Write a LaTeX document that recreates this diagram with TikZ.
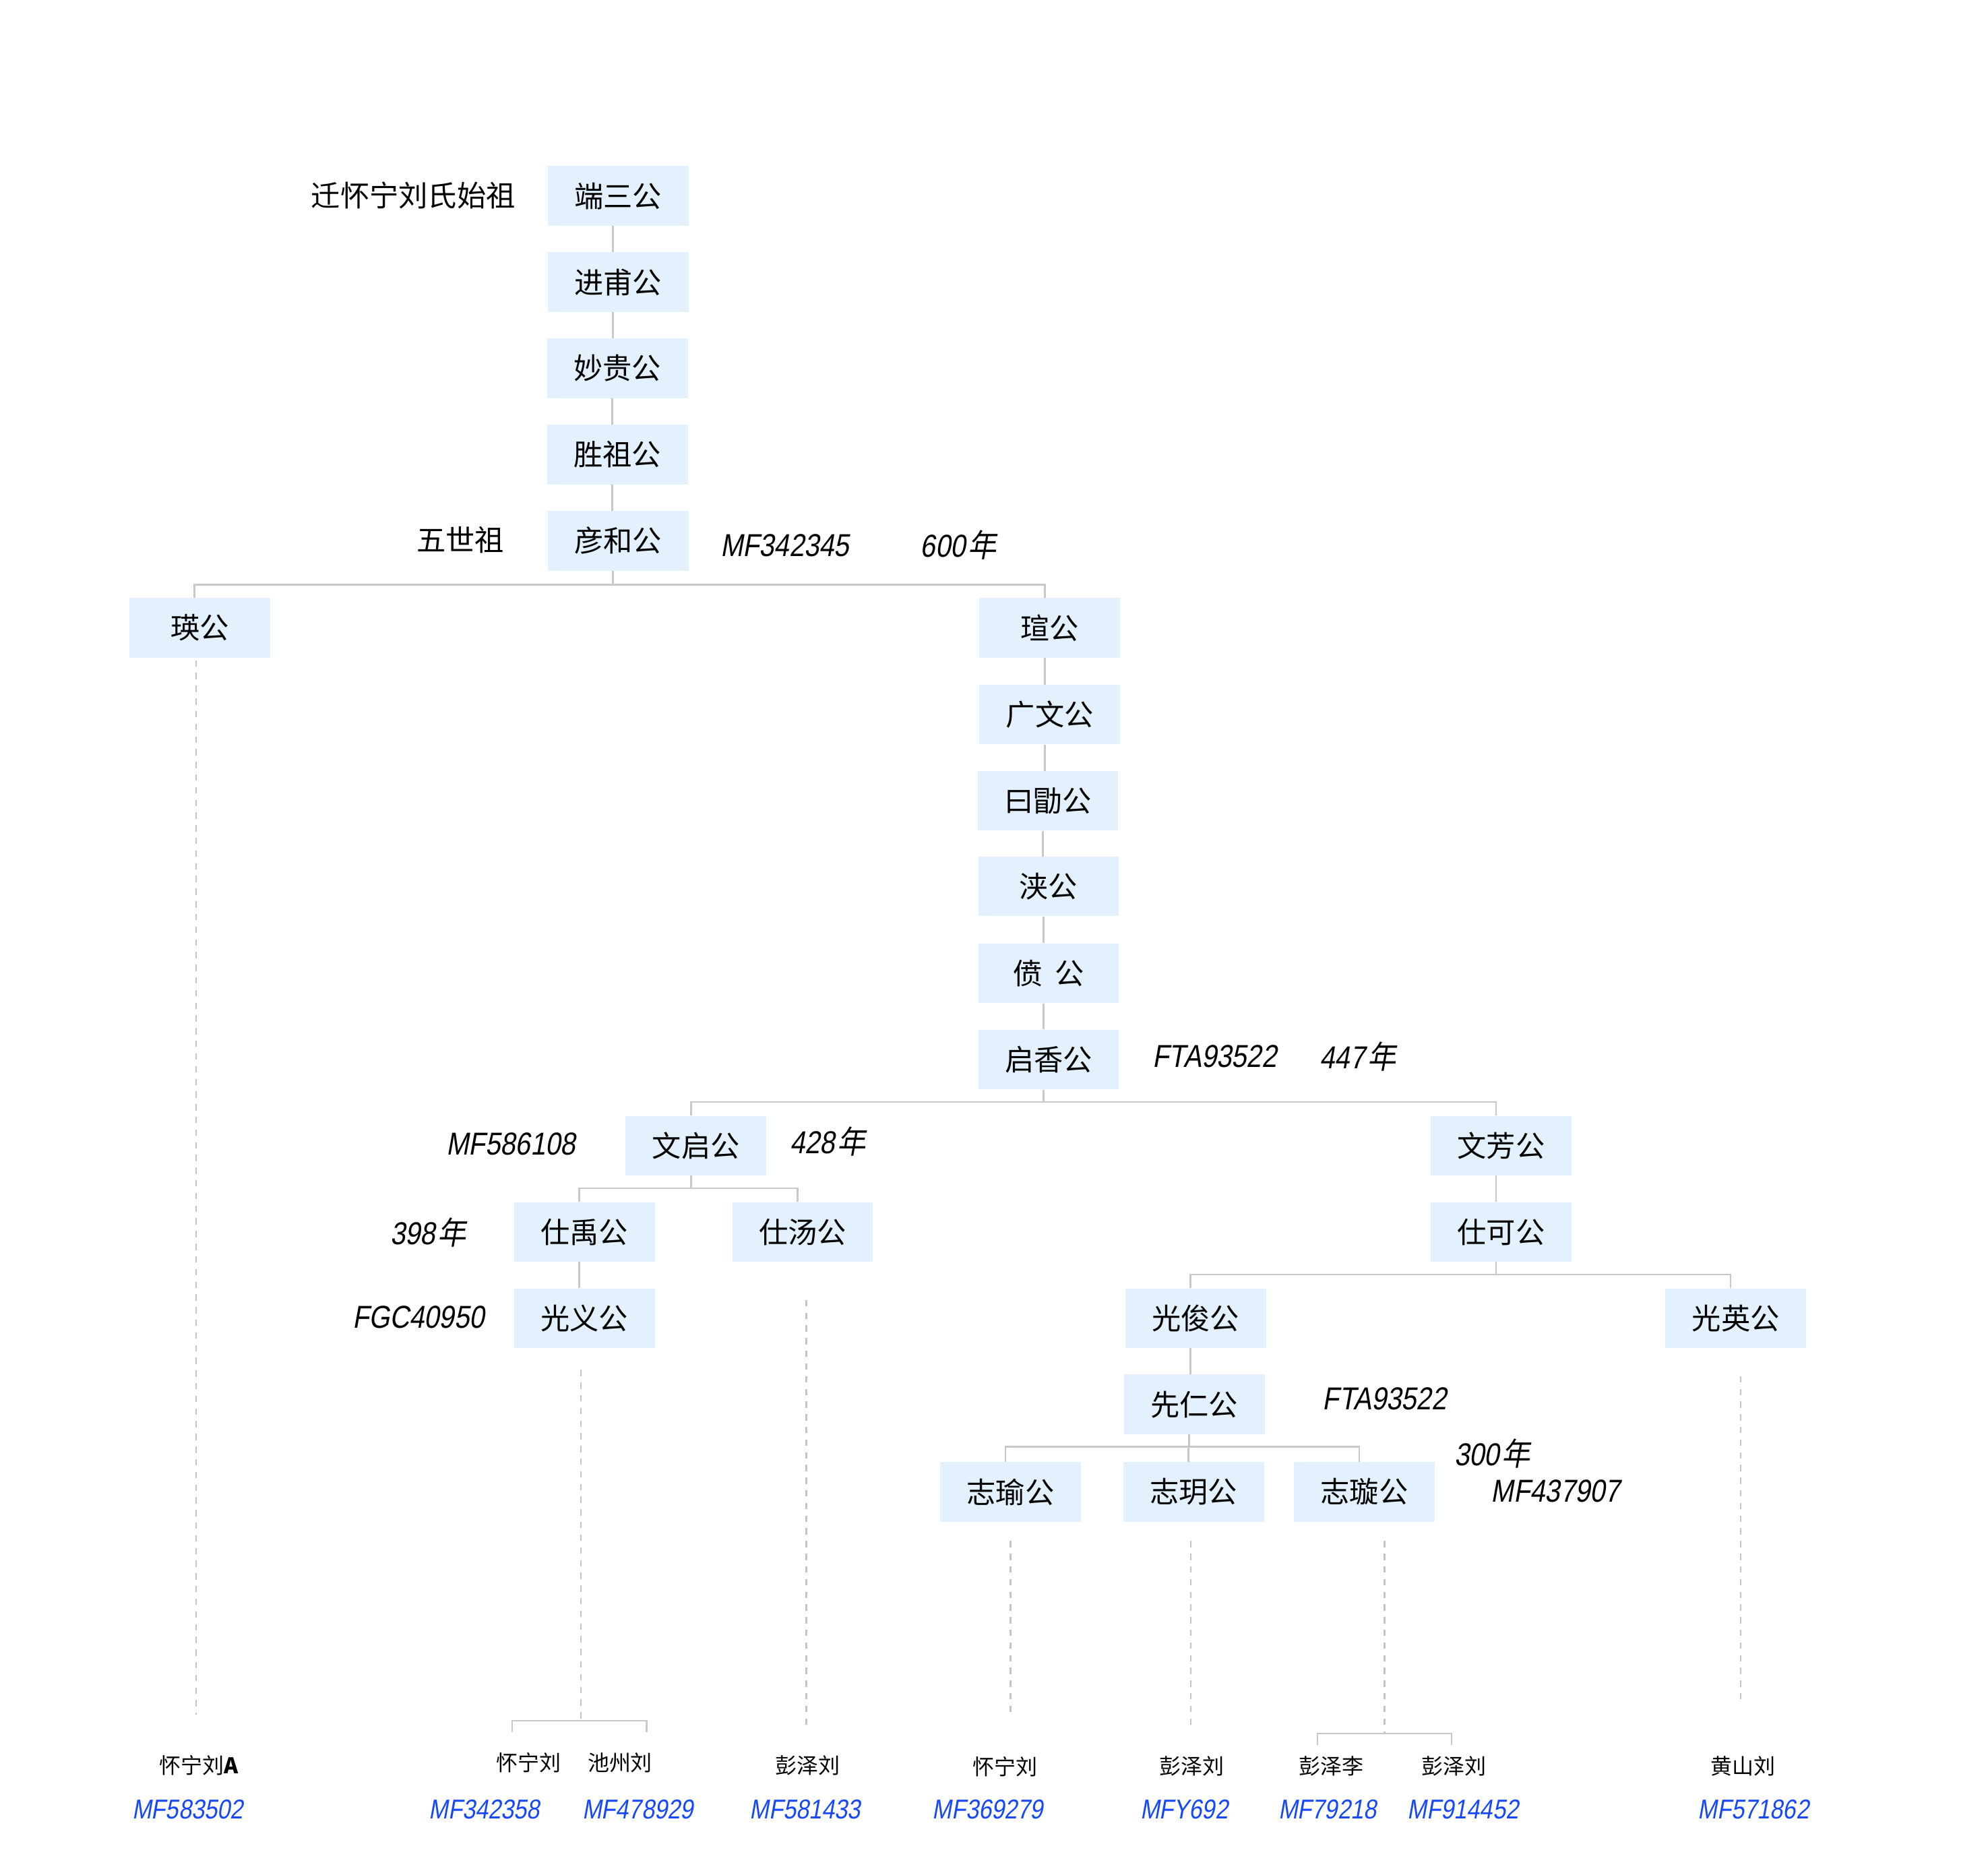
\documentclass[tikz,border=0pt]{standalone}
\usepackage{fontspec}
\usetikzlibrary{calc}
\setmainfont{Noto Sans CJK SC}
\newfontfamily\cjkit[FakeSlant=0.18,FakeStretch=0.9]{Noto Sans CJK SC}
\newfontfamily\codefont[FakeSlant=0.18,FakeStretch=0.85]{Liberation Sans}
\newcommand\nian{\hspace{2pt}{\cjkit 年}}
\newcommand\vlink[2]{\draw[conn] ($(#1.south)+(-4,0)$) -- ($(#1.south |- #2.north)+(-4,0)$);}
\newcommand\stem[2]{\draw[conn] ($(#1.south)+(-4,0)$) -- ($(#1.south |- #2)+(-4,0)$);}
\newcommand\branch[3]{\draw[conn] ($(#1.north)+(-4,0)$) |- ($(#3.north |- #2)+(-4,0)$) -- ($(#3.north)+(-4,0)$);}
\newcommand\drop[2]{\draw[conn] ($(#1.north)+(-4,0)$) -- ($(#1.north |- #2)+(-4,0)$);}
\definecolor{boxfill}{HTML}{E3F0FD}
\definecolor{linegray}{HTML}{C8C8CC}
\definecolor{dotgray}{HTML}{C4C4C8}
\definecolor{codeblue}{RGB}{22,72,250}
\tikzset{
  box/.style={fill=boxfill, minimum width=111pt, minimum height=47pt, inner sep=0pt, font=\fontsize{23}{23}\selectfont},
  note/.style={font=\fontsize{23}{23}\selectfont, inner sep=0pt},
  code/.style={font=\codefont\fontsize{25}{25}\selectfont, inner sep=0pt},
  small/.style={font=\fontsize{17}{17}\selectfont, inner sep=0pt},
  bcode/.style={font=\codefont\fontsize{21.5}{21.5}\selectfont, text=codeblue, inner sep=0pt},
  conn/.style={draw=linegray, line width=1.4pt},
  thinconn/.style={draw=linegray, line width=1.1pt},
  dotline/.style={draw=dotgray, line width=1.2pt, dash pattern=on 5pt off 5pt}
}
\begin{document}
\begin{tikzpicture}[x=1pt,y=-1pt]
\fill[white] (0,0) rectangle (1568,1473.4);
\useasboundingbox (0,0) rectangle (1568,1473.4);

% boxes
\node[box] (n1) at (487.5,154.5) {端三公};
\node[box] (n2) at (487.5,222.5) {进甫公};
\node[box] (n3) at (487,290.5) {妙贵公};
\node[box] (n4) at (487,358.5) {胜祖公};
\node[box] (n5) at (487.5,426.5) {彦和公};
\node[box] (ying) at (157.5,495) {瑛公};
\node[box] (xuan) at (828,495) {瑄公};
\node[box] (gw) at (828,563.5) {广文公};
\node[box] (yx) at (826.5,631.5) {曰勖公};
\node[box] (jia) at (827,699) {浃公};
\node[box] (fen) at (827,767.5) {偾\hspace{10pt}公};
\node[box] (qx) at (827,835.5) {启香公};
\node[box] (wq) at (549,903.5) {文启公};
\node[box] (wf) at (1184,903.5) {文芳公};
\node[box] (sy) at (461,971.5) {仕禹公};
\node[box] (st) at (633,971.5) {仕汤公};
\node[box] (sk) at (1184,971.5) {仕可公};
\node[box] (gy) at (461,1039.5) {光义公};
\node[box] (gj) at (943,1039.5) {光俊公};
\node[box] (gying) at (1369,1039.5) {光英公};
\node[box] (xr) at (942,1107.5) {先仁公};
\node[box] (zy) at (797,1176.5) {志瑜公};
\node[box] (zyue) at (941.5,1176.5) {志玥公};
\node[box] (zx) at (1076,1176.5) {志璇公};

% side notes
\node[note] (t1) at (326,154) {迁怀宁刘氏始祖};
\node[note] (t2) at (363,426) {五世祖};
\node[code] (c1) at (619,430) {MF342345};
\node[code] (y1) at (756,430) {600\nian};
\node[code] (c2) at (958,833) {FTA93522};
\node[code] (y2) at (1071,833) {447\nian};
\node[code] (c3) at (403,902) {MF586108};
\node[code] (y3) at (653,900) {428\nian};
\node[code] (y4) at (338,972) {398\nian};
\node[code] (c4) at (330,1039) {FGC40950};
\node[code] (c5) at (1092,1103) {FTA93522};
\node[code] (y5) at (1177,1146) {300\nian};
\node[code] (c6) at (1227,1176) {MF437907};

% connectors
\coordinate (b1) at (0,461);
\coordinate (b2) at (0,869);
\coordinate (b3) at (0,937);
\coordinate (b4) at (0,1005);
\coordinate (b5) at (0,1141);
\vlink{n1}{n2}
\vlink{n2}{n3}
\vlink{n3}{n4}
\vlink{n4}{n5}
\stem{n5}{b1}
\branch{ying}{b1}{xuan}
\vlink{xuan}{gw}
\vlink{gw}{yx}
\vlink{yx}{jia}
\vlink{jia}{fen}
\vlink{fen}{qx}
\stem{qx}{b2}
\branch{wq}{b2}{wf}
\stem{wq}{b3}
\branch{sy}{b3}{st}
\vlink{sy}{gy}
\vlink{wf}{sk}
\stem{sk}{b4}
\branch{gj}{b4}{gying}
\vlink{gj}{xr}
\stem{xr}{b5}
\branch{zy}{b5}{zx}
\drop{zyue}{b5}

% bottom labels
\node[small] (l1) at (157,1392) {怀宁刘\textbf{A}};
\node[small] (l2) at (417,1390) {怀宁刘};
\node[small] (l3) at (489,1390) {池州刘};
\node[small] (l4) at (637,1392) {彭泽刘};
\node[small] (l5) at (793,1393) {怀宁刘};
\node[small] (l6) at (940,1393) {彭泽刘};
\node[small] (l7) at (1050,1393) {彭泽李};
\node[small] (l8) at (1147,1393) {彭泽刘};
\node[small] (l9) at (1375,1393) {黄山刘};
\node[bcode] (m1) at (148,1427) {MF583502};
\node[bcode] (m2) at (382,1427) {MF342358};
\node[bcode] (m3) at (503,1427) {MF478929};
\node[bcode] (m4) at (635,1427) {MF581433};
\node[bcode] (m5) at (779,1427) {MF369279};
\node[bcode] (m6) at (934,1427) {MFY692};
\node[bcode] (m7) at (1047,1427) {MF79218};
\node[bcode] (m8) at (1154,1427) {MF914452};
\node[bcode] (m9) at (1383,1427) {MF571862};

% dotted descents
\coordinate (g1) at (458,1357);
\coordinate (g1l) at (404,1366);
\coordinate (g1r) at (510,1366);
\coordinate (g2) at (1092,1367);
\coordinate (g2l) at (1039,1376);
\coordinate (g2r) at (1145,1376);
\draw[dotline] ([xshift=-3pt,yshift=-2pt]ying.south) -- ([xshift=-3pt]ying.south |- 0,1352);
\draw[dotline] ([xshift=-3pt,yshift=-17pt]gy.south) -- (g1);
\draw[thinconn] (g1l) |- (g1) -| (g1r);
\draw[dotline] ([xshift=3pt,yshift=-30pt]st.south) -- ([xshift=3pt]st.south |- 0,1365);
\draw[dotline] ([yshift=-15pt]zy.south) -- (zy.south |- 0,1353);
\draw[dotline] ([xshift=-2.5pt,yshift=-15pt]zyue.south) -- ([xshift=-2.5pt]zyue.south |- 0,1362);
\draw[dotline] ([xshift=16pt,yshift=-15pt]zx.south) -- (g2);
\draw[thinconn] (g2l) |- (g2) -| (g2r);
\draw[dotline] ([xshift=4pt,yshift=-22pt]gying.south) -- ([xshift=4pt]gying.south |- 0,1345);
\end{tikzpicture}
\end{document}
